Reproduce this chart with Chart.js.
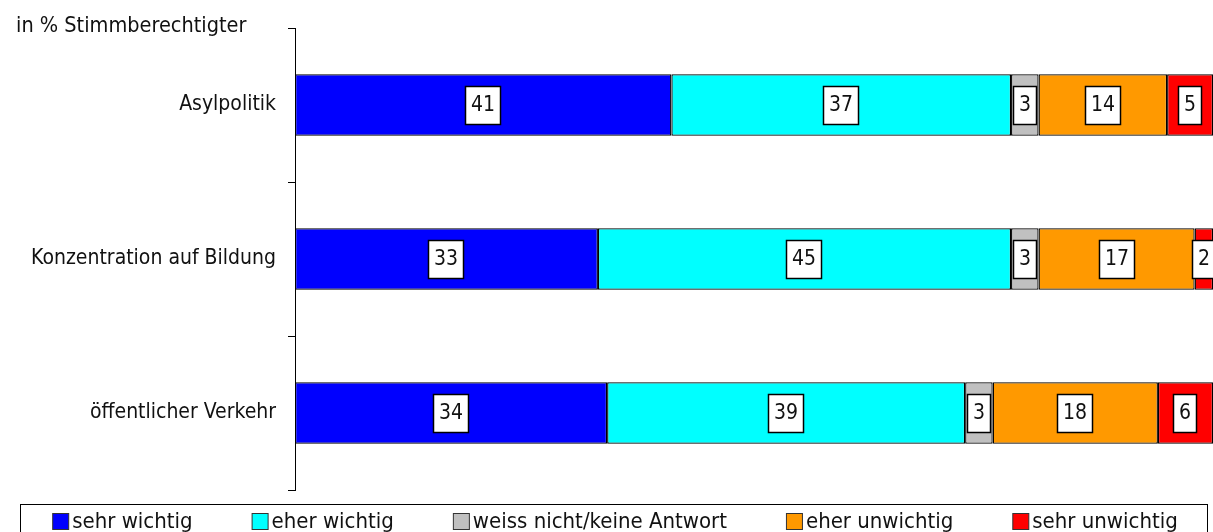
<!DOCTYPE html>
<html lang="de">
<head>
  <meta charset="UTF-8" />
  <title>Wichtigkeit politischer Themen</title>
  <script src="https://cdn.jsdelivr.net/npm/chart.js"></script>
  <style>
    html, body { margin: 0; padding: 0; background: #fff; }
    #wrap { width: 1213px; height: 532px; position: relative; }
  </style>
</head>
<body>
  <div id="wrap"><canvas id="chart"></canvas></div>

  <script>
    const topics = ['Asylpolitik', 'Konzentration auf Bildung', 'öffentlicher Verkehr'];
    const responses = ['sehr wichtig', 'eher wichtig', 'weiss nicht/keine Antwort', 'eher unwichtig', 'sehr unwichtig'];
    const sehrWichtig = [41, 33, 34];
    const eherWichtig = [37, 45, 39];
    const weissNicht = [3, 3, 3];
    const eherUnwichtig = [14, 17, 18];
    const sehrUnwichtig = [5, 2, 6];
    const unitLabel = 'in % Stimmberechtigter';

    const colors = ['#0000ff', '#00ffff', '#c0c0c0', '#ff9900', '#ff0000'];
    const FONT = "'DejaVu Sans Condensed', 'DejaVu Sans', sans-serif";
    const series = [sehrWichtig, eherWichtig, weissNicht, eherUnwichtig, sehrUnwichtig];

    // white boxes with the value in the middle of each segment
    const valueBoxes = {
      id: 'valueBoxes',
      afterDatasetsDraw(chart) {
        const ctx = chart.ctx;
        ctx.save();
        ctx.font = '21px ' + FONT;
        ctx.textAlign = 'center';
        ctx.textBaseline = 'middle';
        chart.data.datasets.forEach((ds, i) => {
          chart.getDatasetMeta(i).data.forEach((bar, j) => {
            const txt = String(ds.data[j]);
            const w = Math.round(ctx.measureText(txt).width) + 12;
            const h = 39;
            const cx = Math.round((bar.x + bar.base) / 2);
            const x = cx - w / 2, y = Math.round(bar.y - h / 2);
            ctx.fillStyle = '#fff';
            ctx.fillRect(x, y, w, h);
            ctx.strokeStyle = '#000';
            ctx.lineWidth = 1.5;
            ctx.strokeRect(x + 0.5, y + 0.5, w - 1, h - 1);
            ctx.fillStyle = '#111';
            ctx.fillText(txt, cx, bar.y + 1);
          });
        });
        ctx.restore();
      }
    };

    // unit text top left and boxed legend at the bottom
    const extras = {
      id: 'extras',
      afterDraw(chart) {
        const ctx = chart.ctx;
        ctx.save();
        ctx.font = '21.5px ' + FONT;
        ctx.fillStyle = '#111';
        ctx.textBaseline = 'alphabetic';
        ctx.textAlign = 'left';
        ctx.fillText(unitLabel, 16, 32);

        ctx.strokeStyle = '#000';
        ctx.lineWidth = 1;
        ctx.strokeRect(20.5, 504.5, 1187, 40);

        ctx.font = '22px ' + FONT;
        const gap = 59, sq = 17;
        const widths = responses.map(r => sq + 3 + ctx.measureText(r).width);
        const total = widths.reduce((a, b) => a + b, 0) + gap * (responses.length - 1);
        let x = 615 - total / 2;
        ctx.textBaseline = 'middle';
        responses.forEach((r, i) => {
          ctx.fillStyle = colors[i];
          ctx.fillRect(x + 0.5, 513.5, sq - 1, sq - 1);
          ctx.strokeStyle = '#333';
          ctx.strokeRect(x + 0.5, 513.5, sq - 1, sq - 1);
          ctx.fillStyle = '#111';
          ctx.fillText(r, x + sq + 3, 522);
          x += widths[i] + gap;
        });
        ctx.restore();
      }
    };

    new Chart(document.getElementById('chart'), {
      type: 'bar',
      data: {
        labels: topics,
        datasets: responses.map((r, i) => ({
          label: r,
          data: series[i],
          backgroundColor: colors[i],
          borderColor: '#000',
          borderWidth: 1.3,
          borderSkipped: false,
          barPercentage: 0.4,
          categoryPercentage: 1
        }))
      },
      options: {
        indexAxis: 'y',
        responsive: true,
        maintainAspectRatio: false,
        animation: false,
        layout: { padding: { top: 28, bottom: 42, left: 0, right: 0 } },
        plugins: { legend: { display: false }, tooltip: { enabled: false } },
        scales: {
          x: { stacked: true, min: 0, max: 100, display: false },
          y: {
            stacked: true,
            afterFit: s => { s.width = 295; },
            grid: { drawOnChartArea: false, tickLength: 7, color: '#000', offset: true },
            border: { display: true, color: '#000', width: 1 },
            ticks: { color: '#111', padding: 12, font: { family: FONT, size: 21 } }
          }
        }
      },
      plugins: [valueBoxes, extras]
    });
  </script>
</body>
</html>
